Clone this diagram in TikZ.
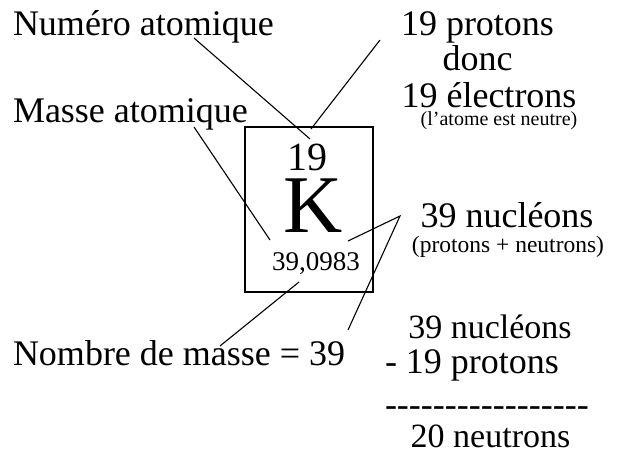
\documentclass[tikz,border=0pt]{standalone}
\usepackage{fontspec}
\setmainfont{Liberation Serif}
\newcommand{\fs}[1]{\fontsize{#1}{#1}\selectfont}
\begin{document}
\begin{tikzpicture}[x=1pt,y=-1pt,
  lbl/.style={inner sep=0pt,outer sep=0pt},
  big/.style={lbl,font=\fs{36}},
  small/.style={lbl,font=\fs{20}},
  conn/.style={line width=1.1pt,black},
  boxst/.style={draw,line width=1.3pt,inner sep=0pt}]
\useasboundingbox (0,0) rectangle (619,456);
\fill[white] (0,0) rectangle (619,456);
% texts
\node[big,anchor=base west] (numero) at (13,35) {Numéro atomique};
\node[big,anchor=base west] (masse) at (13,122) {Masse atomique};
\node[big,anchor=base west] (nombre) at (13,365) {Nombre de masse = 39};
\node[big,anchor=base] (prot) at (477.5,35) {19 protons};
\node[big,anchor=base] (donc) at (477.5,70) {donc};
\node[big,anchor=base] (elec) at (489,107) {19 électrons};
\node[small,anchor=base] (neutre) at (499,125) {(l’atome est neutre)};
\node[big,anchor=base] (nucl) at (507,227) {39 nucléons};
\node[small,font=\fs{23.5},anchor=base] (pn) at (508,252) {(protons + neutrons)};
\node[big,font=\fs{34},anchor=base] (n2) at (490,338) {39 nucléons};
\node[big,anchor=base west] (p2) at (385,373) {- 19 protons};
\node[big,anchor=base west] (dsh) at (385,416) {-{}-{}-{}-{}-{}-{}-{}-{}-{}-{}-{}-{}-{}-{}-{}-{}-};
\node[big,font=\fs{34},anchor=base] (n3) at (490.5,447) {20 neutrons};
% element box
\node[boxst,minimum width=128pt,minimum height=165pt] (box) at (309,209.5) {};
\node[lbl,font=\fs{40},anchor=base,text depth=0pt] (z) at (307,170) {19};
\node[lbl,font=\fs{82},anchor=base,text height=54pt] (sym) at (313,232) {K};
\node[lbl,font=\fs{27},anchor=base] (am) at (316,270) {39,0983};
% connector end points
\coordinate (c1a) at (194,38);  \coordinate (c1b) at (310,139);
\coordinate (c2a) at (380,40);  \coordinate (c2b) at (311,129);
\coordinate (c3a) at (194,127); \coordinate (c3b) at (270,240);
\coordinate (c4a) at (299,282); \coordinate (c4b) at (220,346);
\coordinate (c5a) at (348,241); \coordinate (c5v) at (400,216); \coordinate (c5b) at (348,330);
\draw[conn] (c1a) -- (c1b);
\draw[conn] (c2a) -- (c2b);
\draw[conn] (c3a) -- (c3b);
\draw[conn] (c4a) -- (c4b);
\draw[conn] (c5a) -- (c5v) -- (c5b);
\end{tikzpicture}
\end{document}
